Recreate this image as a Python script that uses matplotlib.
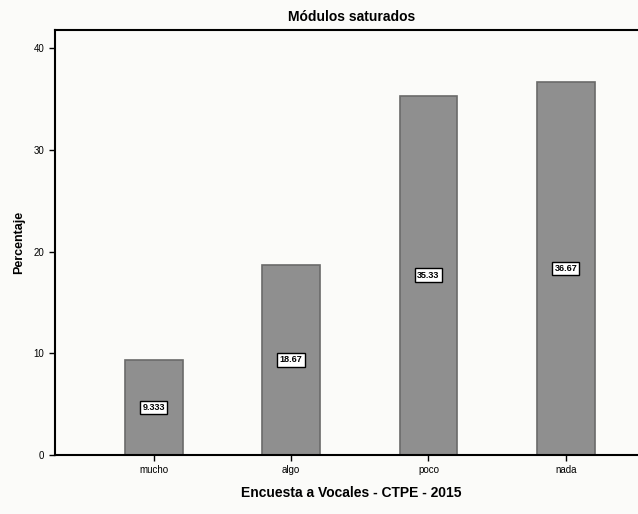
import numpy as np
import matplotlib.pyplot as plt

categorias = ["mucho", "algo", "poco", "nada"]
porcentajes = [9.333, 18.67, 35.33, 36.67]
etiquetas = ["9.333", "18.67", "35.33", "36.67"]

plt.rcParams['font.family'] = ['Liberation Sans', 'DejaVu Sans']

fig = plt.figure(figsize=(6.38, 5.14), dpi=100)
fig.patch.set_facecolor('#fbfbf9')
ax = fig.add_axes([0.086, 0.115, 0.93, 0.827])
ax.set_facecolor('#fbfbf9')

x = np.arange(len(categorias))
ax.bar(x, porcentajes, width=0.42, color='#8f8f8f', edgecolor='#6a6a6a', linewidth=1.2)

for xi, v, lab in zip(x, porcentajes, etiquetas):
    ax.text(xi, v / 2, lab, ha='center', va='center', fontsize=6.5, fontweight='bold',
            bbox=dict(boxstyle='square,pad=0.25', facecolor='white', edgecolor='black', linewidth=1))

ax.set_xlim(-0.72, 3.6)
ax.set_ylim(0, 41.8)
ax.set_yticks([0, 10, 20, 30, 40])
ax.set_xticks(x)
ax.set_xticklabels(categorias, fontsize=7)
ax.tick_params(axis='y', labelsize=7, length=4, width=1)
ax.tick_params(axis='x', length=4, width=1)

for s in ax.spines.values():
    s.set_linewidth(1.5)

ax.set_title("Módulos saturados", fontsize=10, fontweight='bold', pad=6)
ax.set_xlabel("Encuesta a Vocales - CTPE - 2015", fontsize=10, fontweight='bold', labelpad=8)
ax.set_ylabel("Percentaje", fontsize=9, fontweight='bold', labelpad=6)

fig.savefig("out.png", dpi=100, facecolor=fig.get_facecolor())
